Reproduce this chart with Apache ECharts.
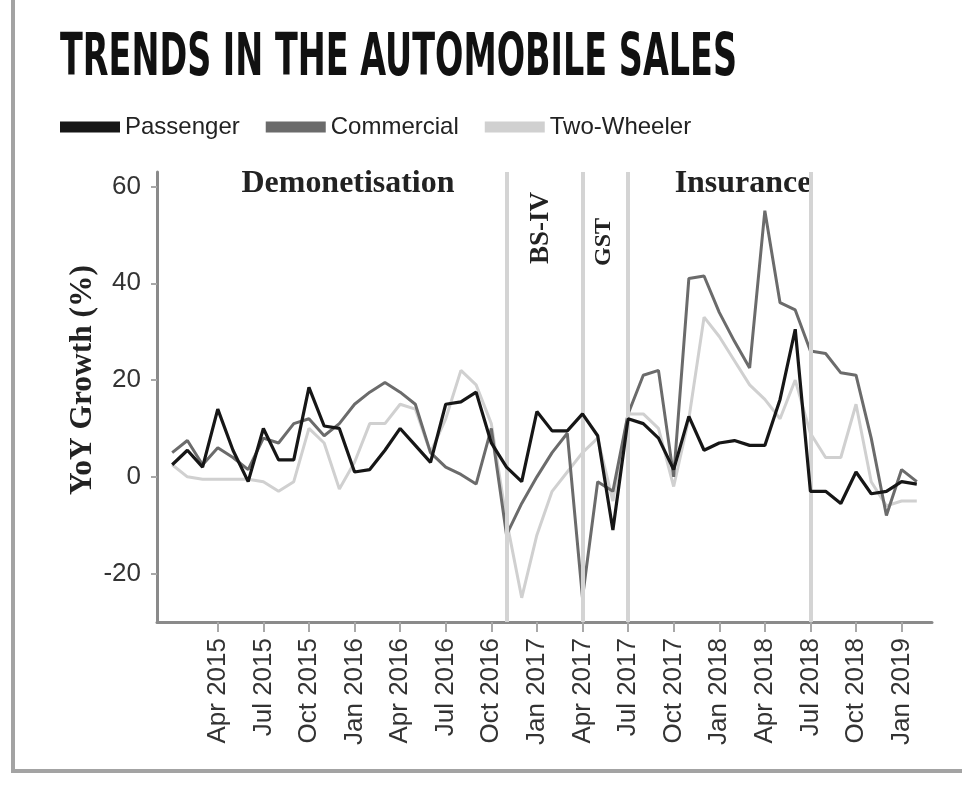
<!DOCTYPE html>
<html>
<head>
<meta charset="utf-8">
<script src="https://cdn.jsdelivr.net/npm/echarts@6/dist/echarts.min.js"></script>
<style>
html,body{margin:0;padding:0;background:#fff;}
#chart{width:962px;height:796px;}
</style>
</head>
<body>
<div id="chart"></div>
<script>
// ---- data ----
const months = [
 'Jan 2015','Feb 2015','Mar 2015','Apr 2015','May 2015','Jun 2015','Jul 2015','Aug 2015','Sep 2015','Oct 2015','Nov 2015','Dec 2015',
 'Jan 2016','Feb 2016','Mar 2016','Apr 2016','May 2016','Jun 2016','Jul 2016','Aug 2016','Sep 2016','Oct 2016','Nov 2016','Dec 2016',
 'Jan 2017','Feb 2017','Mar 2017','Apr 2017','May 2017','Jun 2017','Jul 2017','Aug 2017','Sep 2017','Oct 2017','Nov 2017','Dec 2017',
 'Jan 2018','Feb 2018','Mar 2018','Apr 2018','May 2018','Jun 2018','Jul 2018','Aug 2018','Sep 2018','Oct 2018','Nov 2018','Dec 2018',
 'Jan 2019','Feb 2019'
];
const axisPadStart = 'Dec 2014';
const axisPadEnd = 'Mar 2019';

const passenger = [
 2.5, 5.5, 2, 14, 5.5, -1, 10, 3.5, 3.5, 18.5, 10.5, 10,
 1, 1.5, 5.5, 10, 6.5, 3, 15, 15.5, 17.5, 7, 2, -1,
 13.5, 9.5, 9.5, 13, 8.5, -11, 12, 11, 8, 1.5, 12.5, 5.5,
 7, 7.5, 6.5, 6.5, 16, 30.5, -3, -3, -5.5, 1, -3.5, -3,
 -1, -1.5
];
const commercial = [
 5, 7.5, 2.5, 6, 4, 1.5, 8, 7, 11, 12, 8.5, 11,
 15, 17.5, 19.5, 17.5, 15, 5, 2, 0.5, -1.5, 10, -12, -5.5,
 0, 5, 9, -25, -1, -3, 13, 21, 22, 0, 41, 41.5,
 34, 28, 22.5, 55, 36, 34.5, 26, 25.5, 21.5, 21, 8, -8,
 1.5, -1
];
const twoWheeler = [
 2.5, 0, -0.5, -0.5, -0.5, -0.5, -1, -3, -1, 10, 7, -2.5,
 3, 11, 11, 15, 14, 5, 12, 22, 19, 11, -9, -25,
 -12, -3, 1, 5, 8, -5, 13, 13, 10, -2, 12, 33,
 29, 24, 19, 16, 12, 20, 9, 4, 4, 15, -1, -6,
 -5, -5
];
const seriesNames = ['Passenger', 'Commercial', 'Two-Wheeler'];
const tickLabels = ['Apr 2015','Jul 2015','Oct 2015','Jan 2016','Apr 2016','Jul 2016','Oct 2016','Jan 2017',
 'Apr 2017','Jul 2017','Oct 2017','Jan 2018','Apr 2018','Jul 2018','Oct 2018','Jan 2019'];
const yTicks = [-20, 0, 20, 40, 60];
const eventMonths = ['Nov 2016', 'Apr 2017', 'Jul 2017', 'Jul 2018'];
const titleText = 'TRENDS IN THE AUTOMOBILE SALES';
const yAxisTitle = 'YoY Growth (%)';
const annotations = ['Demonetisation', 'BS-IV', 'GST', 'Insurance'];

// ---- helpers ----
function measure(text, font) {
  const c = document.createElement('canvas').getContext('2d');
  c.font = font;
  return c.measureText(text).width;
}
function fitSize(text, family, weight, targetW) {
  const w = measure(text, weight + ' 100px ' + family);
  return 100 * targetW / w;
}

const axisMonths = [axisPadStart].concat(months, [axisPadEnd]);
const toPairs = arr => months.map((m, i) => [m, arr[i]]);

const titleSize = 59;
const titleW = measure(titleText, 'bold ' + titleSize + 'px "DejaVu Sans"');
const titleScale = 677 / titleW;

const serif = '"Liberation Serif", serif';
const demoSize = fitSize(annotations[0], serif, 'bold', 213);
const yTitleSize = fitSize(yAxisTitle, serif, 'bold', 230);

const chart = echarts.init(document.getElementById('chart'));
const colors = ['#161616', '#6b6b6b', '#d0d0d0'];
const sans = '"Liberation Sans", Arial, sans-serif';

const option = {
  animation: false,
  backgroundColor: '#ffffff',
  grid: { left: 157, right: 30, top: 172, bottom: 174, containLabel: false },
  legend: {
    data: seriesNames,
    left: 60, top: 115, padding: 0,
    icon: 'rect',
    itemWidth: 60, itemHeight: 11, itemGap: 26,
    textStyle: { fontSize: 24, color: '#222', fontFamily: sans }
  },
  xAxis: {
    type: 'category',
    data: axisMonths,
    boundaryGap: false,
    axisLine: { onZero: false, lineStyle: { color: '#8a8a8a', width: 3 } },
    axisTick: {
      interval: (idx, val) => tickLabels.indexOf(val) >= 0,
      length: 10,
      lineStyle: { color: '#a8a8a8', width: 2 }
    },
    axisLabel: {
      interval: (idx, val) => tickLabels.indexOf(val) >= 0,
      rotate: 90,
      fontSize: 26,
      color: '#333',
      margin: 16,
      fontFamily: sans
    },
    splitLine: { show: false }
  },
  yAxis: {
    type: 'value',
    min: -30, max: 63,
    axisLine: { show: true, lineStyle: { color: '#8a8a8a', width: 3 } },
    axisTick: { show: true, customValues: yTicks, length: 6, lineStyle: { color: '#a8a8a8', width: 2 } },
    axisLabel: { customValues: yTicks, fontSize: 26, color: '#333', margin: 16, fontFamily: sans },
    splitLine: { show: false }
  },
  series: [
    {
      name: 'events', type: 'line', data: [], z: 1, silent: true,
      markLine: {
        silent: true, symbol: ['none', 'none'], label: { show: false },
        lineStyle: { color: '#d4d4d4', width: 4, type: 'solid' },
        data: eventMonths.map(m => ({ xAxis: m }))
      }
    },
    { name: seriesNames[2], type: 'line', data: toPairs(twoWheeler), symbol: 'none', z: 3,
      lineStyle: { color: colors[2], width: 3 }, itemStyle: { color: colors[2] } },
    { name: seriesNames[1], type: 'line', data: toPairs(commercial), symbol: 'none', z: 4,
      lineStyle: { color: colors[1], width: 3 }, itemStyle: { color: colors[1] } },
    { name: seriesNames[0], type: 'line', data: toPairs(passenger), symbol: 'none', z: 5,
      lineStyle: { color: colors[0], width: 3.2 }, itemStyle: { color: colors[0] } }
  ],
  graphic: [
    { type: 'line', shape: { x1: 13, y1: 0, x2: 13, y2: 771 }, style: { stroke: '#a3a3a3', lineWidth: 4 }, silent: true },
    { type: 'line', shape: { x1: 11, y1: 771, x2: 962, y2: 771 }, style: { stroke: '#a3a3a3', lineWidth: 4 }, silent: true },
    { type: 'text', x: 60, y: 60, scaleX: titleScale, silent: true,
      style: { text: titleText, fontSize: titleSize, fontWeight: 'bold', fontFamily: '"DejaVu Sans", sans-serif',
        fill: '#111', align: 'left', verticalAlign: 'middle' } },
    { type: 'text', x: 83, y: 380, rotation: Math.PI / 2, silent: true,
      style: { text: yAxisTitle, fontSize: yTitleSize, fontWeight: 'bold', fontFamily: serif,
        fill: '#222', align: 'center', verticalAlign: 'middle' } },
    { type: 'text', x: 348, y: 184, silent: true,
      style: { text: annotations[0], fontSize: demoSize, fontWeight: 'bold', fontFamily: serif,
        fill: '#222', align: 'center', verticalAlign: 'middle' } },
    { type: 'text', x: 541, y: 228, rotation: Math.PI / 2, silent: true,
      style: { text: annotations[1], fontSize: 27, fontWeight: 'bold', fontFamily: serif,
        fill: '#222', align: 'center', verticalAlign: 'middle' } },
    { type: 'text', x: 604, y: 242, rotation: Math.PI / 2, silent: true,
      style: { text: annotations[2], fontSize: 24, fontWeight: 'bold', fontFamily: serif,
        fill: '#222', align: 'center', verticalAlign: 'middle' } },
    { type: 'text', x: 743, y: 184, silent: true,
      style: { text: annotations[3], fontSize: demoSize, fontWeight: 'bold', fontFamily: serif,
        fill: '#222', align: 'center', verticalAlign: 'middle' } }
  ]
};
chart.setOption(option);
</script>
</body>
</html>
